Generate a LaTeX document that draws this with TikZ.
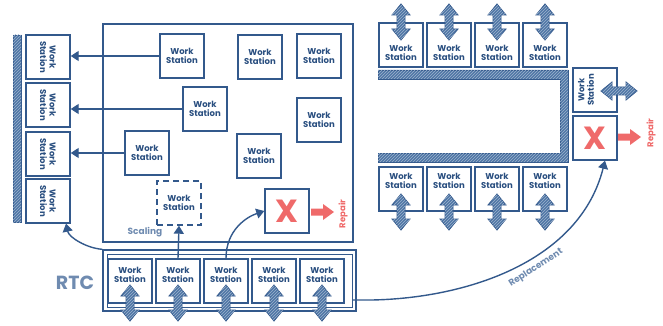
\documentclass[tikz,border=0pt]{standalone}
\usepackage{fontspec}
\setmainfont{Poppins}
\usetikzlibrary{arrows.meta,patterns}
\definecolor{lblue}{HTML}{33598C}
\definecolor{tblue}{HTML}{2A4F80}
\definecolor{fblue}{HTML}{4F76A6}
\definecolor{gblue}{HTML}{6F8BB0}
\definecolor{rred}{HTML}{EF6A6A}
\tikzset{
  wsbox/.style={draw=lblue, line width=1.4pt, minimum width=44pt, minimum height=44pt, inner sep=0pt, fill=white},
  wstext/.style={text=tblue, font=\bfseries\fontsize{8.5}{9.5}\selectfont, align=center, inner sep=0pt},
  ws/.style={wsbox, wstext},
  frame/.style={draw=lblue, line width=1.4pt, inner sep=0pt},
  conn/.style={draw=lblue, line width=1.4pt},
  arr/.style={conn, -{Triangle[length=8pt,width=10pt]}},
  hatch/.style={draw=lblue, line width=0.8pt, fill=fblue, postaction={pattern=north east lines, pattern color=fblue!55!white}},
  vdbl/.pic={\path[hatch] (0,-18) -- (9,-7) -- (4,-7) -- (4,7) -- (9,7) -- (0,18) -- (-9,7) -- (-4,7) -- (-4,-7) -- (-9,-7) -- cycle;},
  redarrow/.pic={\fill[rred] (0,-3.5) -- (12,-3.5) -- (12,-8) -- (23,0) -- (12,8) -- (12,3.5) -- (0,3.5) -- cycle;},
  redtext/.style={text=rred, font=\bfseries\fontsize{8.5}{9}\selectfont, inner sep=0pt},
  bigx/.style={text=rred, font=\bfseries\fontsize{32}{32}\selectfont, inner sep=0pt},
  graytext/.style={text=gblue, font=\bfseries, inner sep=0pt},
}
\begin{document}
\begin{tikzpicture}[x=1pt,y=-1pt]
\useasboundingbox (0,0) rectangle (663,326);

% left rack
\path[hatch] (13,35) rectangle (21,222);
\foreach \n/\y in {1/57,2/105,3/154,4/201}{
  \node[wsbox] (l\n) at (48,\y) {};
  \node[wstext, rotate=-90] (lt\n) at (l\n) {Work\\Station};
}

% main area
\node[frame, minimum width=250pt, minimum height=218pt] (main) at (228,133) {};
\node[ws] (w1) at (182,56) {Work\\Station};
\node[ws] (w2) at (260,57) {Work\\Station};
\node[ws] (w3) at (319,56) {Work\\Station};
\node[ws] (w4) at (205,109) {Work\\Station};
\node[ws] (w5) at (319,120) {Work\\Station};
\node[ws] (w6) at (147,153) {Work\\Station};
\node[ws] (w7) at (259,156) {Work\\Station};
\node[ws, dashed, dash pattern=on 6pt off 4pt] (wd) at (179,203) {Work\\Station};
\node[wsbox] (xl) at (287,211) {};
\node[bigx] (xlt) at (xl) {X};
\pic at (311,212) {redarrow};
\node[redtext, rotate=90] (rep1) at (343,214) {Repair};
\node[graytext, font=\bfseries\fontsize{9}{10}\selectfont] (scal) at (145,232) {Scaling};

\draw[arr] (w1.west) -- (w1.west -| l1.east);
\draw[arr] (w4.west) -- (w4.west -| l2.east);
\draw[arr] (w6.west) -- (w6.west -| l3.east);

% bottom row
\node[frame, minimum width=253pt, minimum height=61pt] (bf) at (229.5,280.5) {};
\node[frame, line width=1pt, minimum width=245pt, minimum height=53pt] (bfi) at (229.5,280.5) {};
\foreach \n/\x in {1/130,2/178,3/226,4/274,5/322}{
  \node[wsbox] (b\n) at (\x,281) {};
  \node[wstext] (bt\n) at ([yshift=6pt]b\n.center) {Work\\Station};
  \pic at (\x,303) {vdbl};
}
\node[graytext, font=\bfseries\fontsize{19}{19}\selectfont] (rtc) at (75,283) {RTC};

\draw[arr] (b2.north) -- (wd.south);
\draw[arr] (b3.north) .. controls +(0,-28) and +(-18,6) .. (xl.west);
\draw[arr] (bf.north west) .. controls +(-15,-1) and +(3,14) .. ([xshift=18pt]l4.south);

% right area
\path[hatch] (378,70) -- (568,70) -- (568,162) -- (378,162) -- (378,153) -- (560,153) -- (560,79) -- (378,79) -- cycle;
\foreach \n/\x in {1/401,2/449,3/497,4/545}{
  \node[wsbox] (t\n) at (\x,45) {};
  \node[wstext] (tt\n) at ([yshift=-8pt]t\n.center) {Work\\Station};
  \pic at (\x,22) {vdbl};
  \node[wsbox] (u\n) at (\x,189) {};
  \node[wstext] (ut\n) at ([yshift=8pt]u\n.center) {Work\\Station};
  \pic at (\x,212) {vdbl};
}
\node[wsbox] (r) at (595,90) {};
\node[wstext, rotate=90] (rt) at ([xshift=-9pt]r.center) {Work\\Station};
\pic[rotate=90] at (619,91) {vdbl};
\node[wsbox] (xr) at (595,138) {};
\node[bigx] (xrt) at (xr) {X};
\pic at (618,137) {redarrow};
\node[redtext, rotate=90] (rep2) at (651,133) {Repair};

\coordinate (rs) at (bfi.east |- 0,300);
\draw[arr] (rs) -- (372,300) .. controls (470,298) and (580,260) .. ([xshift=10pt]xr.south);
\node[graytext, font=\bfseries\fontsize{9}{10}\selectfont, rotate=33] (repl) at (536,268) {Replacement};
\end{tikzpicture}
\end{document}
